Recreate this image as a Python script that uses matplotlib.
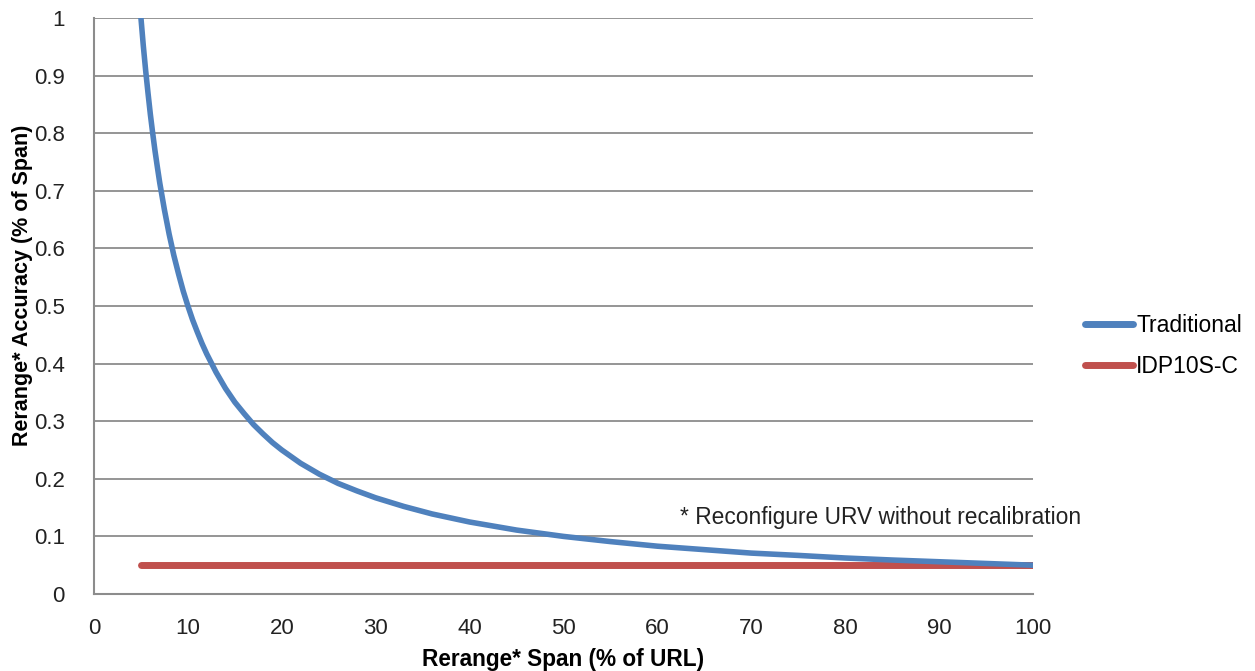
import matplotlib
matplotlib.use("Agg")
import matplotlib.pyplot as plt
from matplotlib.lines import Line2D

plt.rcParams['font.family'] = ['Liberation Sans', 'DejaVu Sans']

# Data
span = [5, 5.25, 5.5, 5.75, 6, 6.25, 6.5, 6.75, 7, 7.5, 8, 8.5, 9, 9.5, 10, 10.5, 11,
        11.5, 12, 13, 14, 15, 16, 17, 18, 19, 20, 22, 24, 26, 28, 30, 33, 36, 40,
        45, 50, 55, 60, 65, 70, 75, 80, 85, 90, 95, 100]
traditional = [1.0, 0.952, 0.909, 0.870, 0.833, 0.800, 0.769, 0.741, 0.714, 0.667,
               0.625, 0.588, 0.556, 0.526, 0.5, 0.476, 0.455, 0.435, 0.417, 0.385,
               0.357, 0.333, 0.313, 0.294, 0.278, 0.263, 0.25, 0.227, 0.208, 0.192,
               0.179, 0.167, 0.152, 0.139, 0.125, 0.111, 0.1, 0.091, 0.083, 0.077,
               0.071, 0.067, 0.0625, 0.059, 0.056, 0.053, 0.05]
idp_span = [5, 100]
idp = [0.05, 0.05]

xticks = list(range(0, 101, 10))
yticks = [0, 0.1, 0.2, 0.3, 0.4, 0.5, 0.6, 0.7, 0.8, 0.9, 1]
yticklabels = ['0', '0.1', '0.2', '0.3', '0.4', '0.5', '0.6', '0.7', '0.8', '0.9', '1']

blue = '#4F81BD'
red = '#C0504D'

fig = plt.figure(figsize=(12.55, 6.71), dpi=100)
ax = fig.add_axes([94/1255, 1-594/671, (1033-94)/1255, (594-18)/671])

ax.plot(idp_span, idp, color=red, lw=5.0, solid_capstyle='round', zorder=3)
ax.plot(span, traditional, color=blue, lw=4.0, solid_capstyle='round',
        solid_joinstyle='round', zorder=4)

ax.set_xlim(0, 100)
ax.set_ylim(0, 1)
ax.set_xticks(xticks)
ax.set_yticks(yticks)
ax.set_yticklabels(yticklabels)
ax.tick_params(length=0, labelsize=16, colors='#222222')
ax.tick_params(axis='x', pad=17)
ax.tick_params(axis='y', pad=21)
ax.grid(axis='y', color='#8c8c8c', lw=1.3)
ax.set_axisbelow(True)
for s in ['top', 'right']:
    ax.spines[s].set_visible(False)
for s in ['left', 'bottom']:
    ax.spines[s].set_color('#8c8c8c')
    ax.spines[s].set_linewidth(1.5)

ax.set_xlabel('Rerange* Span (% of URL)', fontsize=16.3, fontweight='bold', labelpad=7)
ax.set_ylabel('Rerange* Accuracy (% of Span)', fontsize=15.5, fontweight='bold')
ax.yaxis.set_label_coords((33 - 94) / 939, (594 - 285) / 576)

ax.text(62.4, 0.133, '* Reconfigure URV without recalibration', fontsize=16.4,
        va='center', ha='left', color='#222222')

handles = [Line2D([0], [0], color=blue, lw=5, solid_capstyle='round'),
           Line2D([0], [0], color=red, lw=5, solid_capstyle='round')]
fig.legend(handles, ['Traditional', 'IDP10S-C'], loc='center left',
           bbox_to_anchor=(1064/1255, 1-346/671), frameon=False, fontsize=16.5,
           handlelength=2.1, handletextpad=0.15, labelspacing=0.75)

fig.savefig('out.png', dpi=100)
